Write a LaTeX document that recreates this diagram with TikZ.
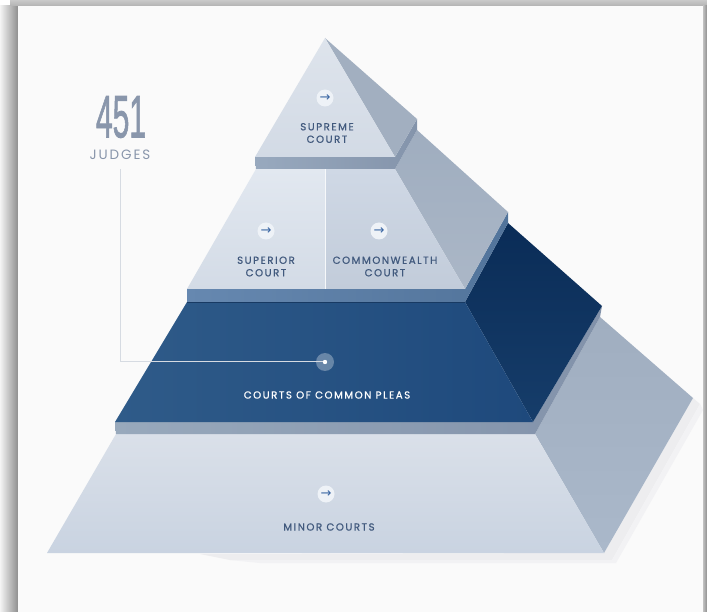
\documentclass[tikz,border=0pt]{standalone}
\usepackage{graphicx}
\usepackage{fontspec}
\setmainfont{Poppins}
\newfontfamily\labfont[LetterSpace=15,FakeBold=0.8]{Poppins}
\newfontfamily\judgefont[LetterSpace=14]{Poppins}
\newfontfamily\numfont[FakeBold=1.6]{Liberation Sans}
\newfontfamily\symfont{DejaVu Sans}
\definecolor{panel}{HTML}{FAFAFA}
\definecolor{frameA}{HTML}{F4F4F4}
\definecolor{frameB}{HTML}{8E8E8E}
\definecolor{frameT}{HTML}{B2B2B2}
\definecolor{shadowc}{HTML}{EDEDEF}
\definecolor{tOneFront}{HTML}{DEE4EC}
\definecolor{tOneFrontB}{HTML}{D2DAE5}
\definecolor{tOneSide}{HTML}{A2AFC0}
\definecolor{bandLa}{HTML}{98A9BE}
\definecolor{bandLb}{HTML}{8494AB}
\definecolor{tTwoL}{HTML}{E2E8F0}
\definecolor{tTwoLb}{HTML}{D3DBE6}
\definecolor{tTwoR}{HTML}{CFD8E5}
\definecolor{tTwoRb}{HTML}{C2CCDA}
\definecolor{tTwoSide}{HTML}{9FADBF}
\definecolor{tTwoSideB}{HTML}{ABB7C7}
\definecolor{bandMa}{HTML}{6688B0}
\definecolor{bandMb}{HTML}{52749B}
\definecolor{tThreeL}{HTML}{2F5B89}
\definecolor{tThreeR}{HTML}{1E497C}
\definecolor{tThreeSide}{HTML}{0A2C57}
\definecolor{tThreeSideB}{HTML}{163D6A}
\definecolor{bandNa}{HTML}{98A9BC}
\definecolor{bandNb}{HTML}{8292AA}
\definecolor{tFourT}{HTML}{DAE0E9}
\definecolor{tFourB}{HTML}{C9D3E1}
\definecolor{tFourSide}{HTML}{A0AEC0}
\definecolor{tFourSideB}{HTML}{AAB8CA}
\definecolor{labc}{HTML}{41597D}
\definecolor{arrowc}{HTML}{3A66A3}
\definecolor{iconc}{HTML}{EEF2F7}
\definecolor{numc}{HTML}{8996AB}
\definecolor{linec}{HTML}{D6DBE2}
\begin{document}
\begin{tikzpicture}[x=1pt,y=-1pt,
  lab/.style={text=labc, align=center, inner sep=0pt, font=\labfont\fontsize{10.2}{12.5}\selectfont},
  labw/.style={lab, text=white},
  icon/.style={circle, fill=iconc, minimum size=17pt, inner sep=0pt, text=arrowc, font=\symfont\fontsize{13}{13}\selectfont},
  conn/.style={draw=linec, line width=1pt}
]
\useasboundingbox (0,0) rectangle (707,612);
% frame
\fill[white] (0,0) rectangle (707,612);
\shade[left color=frameA, right color=frameB] (0,6) rectangle (18,612);
\shade[top color=frameT!70, bottom color=frameT] (10,0) rectangle (707,6);
\shade[left color=frameT!80, right color=frameB] (703,6) rectangle (707,612);
\fill[panel] (18,6) rectangle (703,612);
% shadows
\fill[shadowc] (604,553) -- (693,398) -- (700,404) -- (612,560) -- (230,560) -- (200,554) -- cycle;
\fill[shadowc!60!panel] (612,560) -- (700,404) -- (703,410) -- (616,563) -- (260,563) -- (230,560) -- cycle;
% tier 4 (minor courts)
\shade[top color=tFourSide, bottom color=tFourSideB] (535,434) -- (600,317) -- (693,398) -- (604,553) -- cycle;
\shade[shading angle=20, top color=tFourT, bottom color=tFourB] (116,434) -- (535,434) -- (604,553) -- (47,553) -- cycle;
\shade[left color=bandNa, right color=bandNb] (115,422) -- (533,422) -- (602,306) -- (600,317) -- (535,434) -- (116,434) -- cycle;
% tier 3 (common pleas)
\shade[top color=tThreeSide, bottom color=tThreeSideB] (465,302) -- (508,223) -- (602,306) -- (533,422) -- cycle;
\shade[left color=tThreeL, right color=tThreeR] (187,302) -- (465,302) -- (533,422) -- (115,422) -- cycle;
\draw[tThreeR!80!black, line width=0.8pt] (187,302) -- (465,302);
\shade[left color=bandMa, right color=bandMb] (187,289) -- (465,289) -- (508,212) -- (508,223) -- (465,302) -- (187,302) -- cycle;
% tier 2 (superior / commonwealth)
\shade[top color=tTwoSide, bottom color=tTwoSideB] (395,169) -- (417,130) -- (508,212) -- (465,289) -- cycle;
\shade[top color=tTwoL, bottom color=tTwoLb] (256,169) -- (325,169) -- (325,289) -- (187,289) -- cycle;
\shade[top color=tTwoR, bottom color=tTwoRb] (325,169) -- (395,169) -- (465,289) -- (325,289) -- cycle;
\draw[white!70!tTwoL, line width=0.8pt] (325,169) -- (325,289);
\shade[left color=bandLa, right color=bandLb] (255,157) -- (395,157) -- (417,119) -- (417,130) -- (395,169) -- (256,169) -- cycle;
% tier 1 (supreme)
\fill[tOneSide] (325,38) -- (417,119) -- (395,157) -- cycle;
\shade[top color=tOneFront, bottom color=tOneFrontB] (325,38) -- (395,157) -- (255,157) -- cycle;
% labels and icons
\node[icon] (isup) at (325,98) {→};
\node[lab] (sup) at (327,133) {SUPREME\\COURT};
\node[icon] (isuper) at (266,231) {→};
\node[lab] (super) at (266,266.5) {SUPERIOR\\COURT};
\node[icon] (icomm) at (379,231) {→};
\node[lab] (comm) at (385,266.5) {COMMONWEALTH\\COURT};
\node[labw] (pleas) at (327,395) {COURTS OF COMMON PLEAS};
\node[icon] (iminor) at (326,494) {→};
\node[lab] (minor) at (329,527) {MINOR COURTS};
% judges callout
\node[text=numc, inner sep=0pt] (num) at (121,117) {\numfont\fontsize{60}{60}\selectfont\scalebox{0.5}[1]{451}};
\node[text=numc, inner sep=0pt, font=\judgefont\fontsize{13.5}{13.5}\selectfont] (judges) at (120,155) {JUDGES};
\node[circle, fill=white, fill opacity=0.3, minimum size=18pt, inner sep=0pt] (dot) at (325,362) {};
\coordinate (bend) at (120,362);
\coordinate (linetop) at (120,169);
\draw[conn] (dot.center) -- (bend) -- (linetop);
\fill[white] (dot.center) circle (2.2pt);
\end{tikzpicture}
\end{document}
